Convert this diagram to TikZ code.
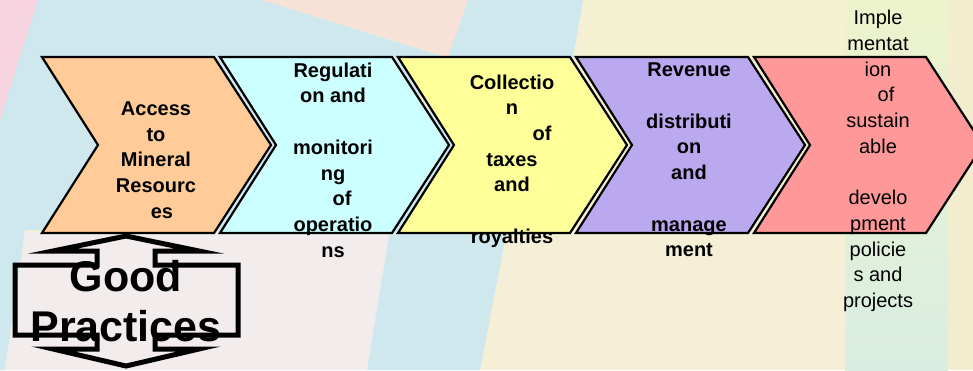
\documentclass[tikz,border=0pt]{standalone}
\usepackage{fontspec}
\setmainfont{Liberation Sans}
\definecolor{bgcream}{HTML}{F4EFD6}
\definecolor{bgpinkwhite}{HTML}{F2ECEC}
\definecolor{bgblue}{HTML}{CFE8EE}
\definecolor{bgpink}{HTML}{F6D4E0}
\definecolor{bgpeach}{HTML}{F8E1D6}
\definecolor{bgyellow}{HTML}{F3F1D0}
\definecolor{bggreen}{HTML}{D9EEE3}
\definecolor{bglime}{HTML}{EDF3CC}
\definecolor{bgtan}{HTML}{F3EDD0}
\definecolor{chevorange}{HTML}{FFCC99}
\definecolor{chevcyan}{HTML}{CCFFFF}
\definecolor{chevyellow}{HTML}{FFFF99}
\definecolor{chevpurple}{HTML}{BBA9F0}
\definecolor{chevred}{HTML}{FF9999}
\begin{document}
\begin{tikzpicture}[x=1pt,y=-1pt,
  chev/.style={draw=black, line width=2.2pt, line join=miter},
  chevtext/.style={font=\fontsize{20}{25.7}\selectfont\bfseries, align=center, inner sep=0pt, text=black},
  chevplain/.style={font=\fontsize{20}{25.7}\selectfont, align=center, inner sep=0pt, text=black},
  callout/.style={draw=black, line width=5pt, line join=miter},
  bigtext/.style={font=\fontsize{43}{50}\selectfont\bfseries, align=center, inner sep=0pt, text=black}]
\useasboundingbox (0,0) rectangle (973,370);
\begin{scope}
\clip (0,0) rectangle (973,370);
% pastel background
\fill[bgcream] (0,0) rectangle (973,370);
\fill[bgyellow] (583,0) rectangle (845,233);
\fill[bgblue] (30,0) -- (262,0) -- (445,57) -- (330,230) -- (25,230) -- (5,370) -- (0,370) -- (0,120) -- cycle;
\fill[bgpinkwhite] (25,232) -- (395,232) -- (367,370) -- (5,370) -- cycle;
\fill[bgpink] (0,0) -- (38,0) -- (0,120) -- cycle;
\fill[bgpeach] (262,0) -- (468,0) -- (448,57) -- cycle;
\fill[bgblue] (468,0) -- (583,0) -- (573,57) -- (507,230) -- (480,370) -- (367,370) -- (390,230) -- (448,57) -- cycle;
\shade[top color=bglime, bottom color=bggreen] (845,0) rectangle (948,370);
\fill[bgtan] (948,0) rectangle (973,370);
% value chain chevrons
\foreach \x/\c in {42/chevorange, 220/chevcyan, 398/chevyellow, 576/chevpurple, 754/chevred}
  \filldraw[chev, fill=\c] (\x,57) -- ++(172,0) -- ++(57,88) -- ++(-57,88) -- ++(-172,0) -- ++(56,-88) -- cycle;
% up-down arrow callout
\draw[callout] (126,236) -- (199,251) -- (155,251) -- (155,265) -- (238,265) -- (238,335)
  -- (155,335) -- (155,349) -- (199,349) -- (126,366) -- (53,349) -- (97,349) -- (97,335)
  -- (15,335) -- (15,265) -- (97,265) -- (97,251) -- (53,251) -- cycle;
\end{scope}
% labels
\node[chevtext] (access) at (156,160) {Access\\to\\Mineral\\Resourc\\\hspace*{12pt}es};
\node[chevtext] (regulation) at (333,160) {Regulati\\on and\\\mbox{}\\monitori\\ng\\\hspace*{18pt}of\\operatio\\ns};
\node[chevtext] (collection) at (512,161) {Collectio\\n\\\hspace*{60pt}of\\taxes\\and\\\mbox{}\\royalties};
\node[chevtext] (revenue) at (689,160) {Revenue\\\mbox{}\\distributi\\on\\and\\\mbox{}\\manage\\ment};
\node[chevplain] (implementation) at (878,161) {Imple\\mentat\\ion\\\hspace*{16pt}of\\sustain\\able\\\mbox{}\\develo\\pment\\policie\\s and\\projects};
\node[bigtext] (practices) at (126,301.5) {Good\\Practices};
\end{tikzpicture}
\end{document}
